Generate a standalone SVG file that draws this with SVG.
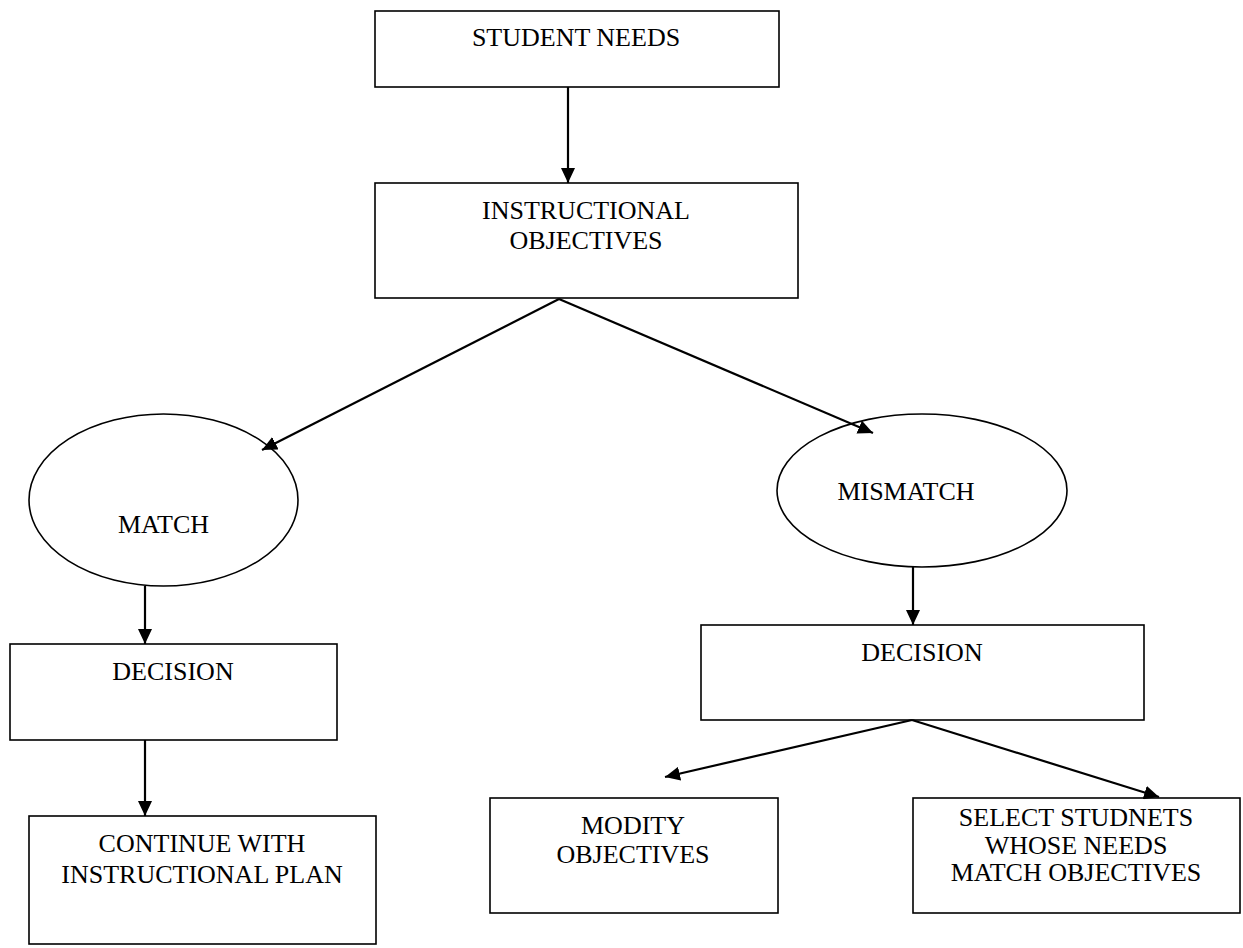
<svg xmlns="http://www.w3.org/2000/svg" width="1243" height="948" viewBox="0 0 1243 948">
<style>
.box{fill:#fff;stroke:#000;stroke-width:1.6}
.t{font-family:"Liberation Serif","Times New Roman",serif;font-size:26px;fill:#000;text-anchor:middle}
.c{stroke:#000;stroke-width:2.2;fill:none;marker-end:url(#ah)}
</style>
<defs>
<marker id="ah" markerUnits="userSpaceOnUse" markerWidth="16" markerHeight="14" refX="15" refY="7" orient="auto">
<path d="M0,0 L15,7 L0,14 z" fill="#000"/>
</marker>
</defs>
<rect width="1243" height="948" fill="#fff"/>
<g id="student-needs">
<rect class="box" x="375" y="11" width="404" height="76"/>
<text class="t" x="576" y="46">STUDENT NEEDS</text>
</g>
<g id="instructional-objectives">
<rect class="box" x="375" y="183" width="423" height="115"/>
<text class="t" x="586" y="219">INSTRUCTIONAL</text>
<text class="t" x="586" y="249">OBJECTIVES</text>
</g>
<g id="match">
<ellipse class="box" cx="163.5" cy="500" rx="134.5" ry="86"/>
<text class="t" x="163.5" y="533">MATCH</text>
</g>
<g id="mismatch">
<ellipse class="box" cx="922" cy="490.5" rx="145" ry="76.5"/>
<text class="t" x="906" y="500">MISMATCH</text>
</g>
<g id="decision-left">
<rect class="box" x="10" y="644" width="327" height="96"/>
<text class="t" x="173" y="680">DECISION</text>
</g>
<g id="decision-right">
<rect class="box" x="701" y="625" width="443" height="95"/>
<text class="t" x="922" y="661">DECISION</text>
</g>
<g id="continue">
<rect class="box" x="29" y="816" width="347" height="128"/>
<text class="t" x="202" y="852">CONTINUE WITH</text>
<text class="t" x="202" y="883">INSTRUCTIONAL PLAN</text>
</g>
<g id="modify">
<rect class="box" x="490" y="798" width="288" height="115"/>
<text class="t" x="633" y="834">MODITY</text>
<text class="t" x="633" y="863">OBJECTIVES</text>
</g>
<g id="select">
<rect class="box" x="913" y="798" width="327" height="115"/>
<text class="t" x="1076" y="826">SELECT STUDNETS</text>
<text class="t" x="1076" y="854">WHOSE NEEDS</text>
<text class="t" x="1076" y="881">MATCH OBJECTIVES</text>
</g>
<g id="connectors">
<line class="c" x1="568" y1="87" x2="568" y2="183"/>
<line class="c" x1="559" y1="299" x2="262" y2="450"/>
<line class="c" x1="559" y1="299" x2="873" y2="433"/>
<line class="c" x1="145" y1="586" x2="145" y2="644"/>
<line class="c" x1="145" y1="740" x2="145" y2="816"/>
<line class="c" x1="913" y1="567" x2="913" y2="625"/>
<line class="c" x1="912" y1="720" x2="665" y2="777"/>
<line class="c" x1="912" y1="720" x2="1159" y2="797"/>
</g>
</svg>
